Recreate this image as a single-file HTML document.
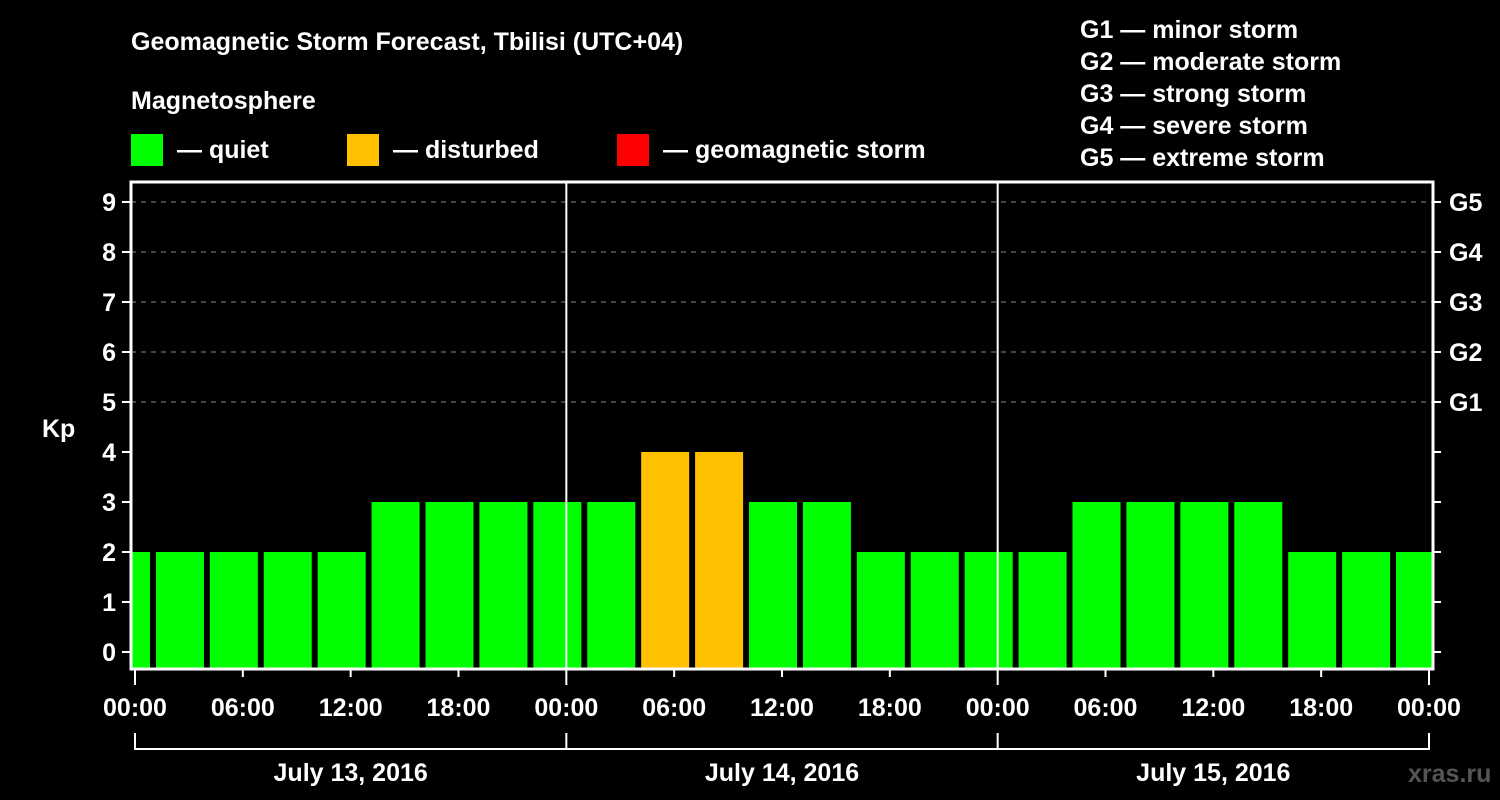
<!DOCTYPE html>
<html><head><meta charset="utf-8"><style>
html,body{margin:0;padding:0;background:#000;}
svg{display:block;font-family:"Liberation Sans",sans-serif;font-weight:bold;}
</style></head><body>
<svg width="1500" height="800" viewBox="0 0 1500 800">
<g id="hdr">
<text x="131" y="50" fill="#fff" font-size="25">Geomagnetic Storm Forecast, Tbilisi (UTC+04)</text>
<text x="131" y="109" fill="#fff" font-size="25">Magnetosphere</text>
<rect x="131" y="134" width="32" height="32" fill="#00ff00"/>
<text x="177" y="158" fill="#fff" font-size="25">— quiet</text>
<rect x="347" y="134" width="32" height="32" fill="#ffc000"/>
<text x="393" y="158" fill="#fff" font-size="25">— disturbed</text>
<rect x="617" y="134" width="32" height="32" fill="#ff0000"/>
<text x="663" y="158" fill="#fff" font-size="25">— geomagnetic storm</text>
<g fill="#fff" font-size="25">
<text x="1080" y="38">G1 — minor storm</text>
<text x="1080" y="70">G2 — moderate storm</text>
<text x="1080" y="102">G3 — strong storm</text>
<text x="1080" y="134">G4 — severe storm</text>
<text x="1080" y="166">G5 — extreme storm</text>
</g>
<text x="42" y="437" fill="#fff" font-size="25">Kp</text>
<text x="1408" y="782" fill="#555" font-size="25">xras.ru</text>
</g>
<g id="plot"></g>
</svg>
<script>
const kpValues=[2,2,2,2,2,3,3,3,3,3,4,4,3,3,2,2,2,2,3,3,3,3,2,2,2];
const yTicks=[0,1,2,3,4,5,6,7,8,9];
const gLabels=["G1","G2","G3","G4","G5"];
const xTickLabels=["00:00","06:00","12:00","18:00","00:00","06:00","12:00","18:00","00:00","06:00","12:00","18:00","00:00"];
const dayLabels=["July 13, 2016","July 14, 2016","July 15, 2016"];

const NS="http://www.w3.org/2000/svg";
const g=document.getElementById('plot');
const L=131,R=1433,T=182,B=669;
const x0=135,pxh=(1429-135)/72;
const X=h=>x0+h*pxh;
const Y=v=>652-v*50;
function mk(tag,attrs,parent){const e=document.createElementNS(NS,tag);for(const k in attrs)e.setAttribute(k,attrs[k]);(parent||g).appendChild(e);return e;}
// clip
const defs=mk('defs',{});
const cp=mk('clipPath',{id:'pc'},defs);
mk('rect',{x:L,y:T,width:R-L,height:B-T},cp);
// grid
yTicks.forEach(v=>{
 if(v>=5){const l=mk('line',{x1:L,x2:R,y1:Y(v),y2:Y(v),stroke:'#888','stroke-width':1,'stroke-dasharray':'5,5'});
 
 }
});
// bars
const bg=mk('g',{'clip-path':'url(#pc)'});
kpValues.forEach((v,k)=>{
 const c=3*k-0.5,w=48/pxh;
 const r=mk('rect',{x:X(c-w/2),y:Y(v),width:48,height:B-Y(v),fill:v>=5?'#ff0000':(v>=4?'#ffc000':'#00ff00')},bg);
 
 
});
// day separators
[24,48].forEach(h=>{const l=mk('line',{x1:X(h),x2:X(h),y1:T,y2:B,stroke:'#fff','stroke-width':2});
 
 });
// frame
const fr=mk('rect',{x:L,y:T,width:R-L,height:B-T,fill:'none',stroke:'#fff','stroke-width':3});


// y ticks
yTicks.forEach(v=>{
 mk('line',{x1:L-9,x2:L,y1:Y(v),y2:Y(v),stroke:'#fff','stroke-width':2});
 mk('line',{x1:R,x2:R+8,y1:Y(v),y2:Y(v),stroke:'#fff','stroke-width':2});
 const t=mk('text',{x:116,y:Y(v)+9,fill:'#fff','font-size':25,'text-anchor':'end'});t.textContent=v;
 
 
});
gLabels.forEach((s,i)=>{const t=mk('text',{x:1449,y:Y(5+i)+9,fill:'#fff','font-size':25});t.textContent=s;
 
 });
// x ticks
xTickLabels.forEach((s,i)=>{
 const h=i*6,major=i%4===0;
 mk('line',{x1:X(h),x2:X(h),y1:B,y2:major?685:677,stroke:'#fff','stroke-width':2});
 const t=mk('text',{x:X(h),y:716,fill:'#fff','font-size':25,'text-anchor':'middle'});t.textContent=s;
 
 
});
// day bracket
mk('line',{x1:X(0),x2:X(72),y1:749,y2:749,stroke:'#fff','stroke-width':2});
[0,24,48,72].forEach(h=>mk('line',{x1:X(h),x2:X(h),y1:733,y2:750,stroke:'#fff','stroke-width':2}));
dayLabels.forEach((s,i)=>{const t=mk('text',{x:X(24*i+12),y:781,fill:'#fff','font-size':25,'text-anchor':'middle'});t.textContent=s;
 
 });
</script>
</body></html>
